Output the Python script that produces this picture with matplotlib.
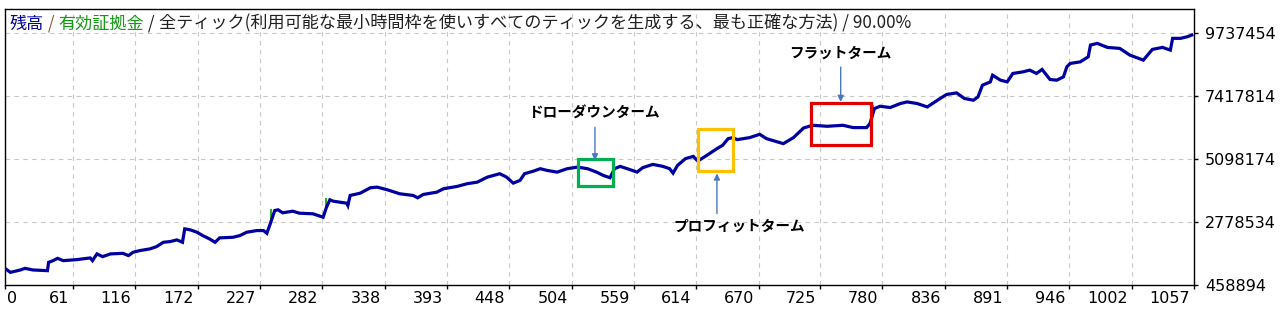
import matplotlib
matplotlib.use('Agg')
import matplotlib.pyplot as plt
import matplotlib.transforms as mtransforms
from matplotlib.patches import Rectangle

# balance curve (trade number, balance)
trade_no = [1, 5, 14, 18, 25, 38, 39, 43, 47, 52, 64, 76, 78, 82, 87, 94, 105, 110, 114, 120,
            129, 135, 141, 147, 153, 158, 160, 165, 171, 176, 182, 187, 191, 203, 209, 215, 224, 230, 233, 236,
            240, 243, 247, 256, 262, 274, 283, 286, 289, 292, 304, 305, 307, 316, 325, 331, 340, 351, 363, 367,
            372, 384, 390, 402, 411, 420, 429, 440, 446, 452, 458, 462, 470, 476, 482, 491, 500, 509, 518, 526,
            532, 538, 542, 547, 556, 562, 567, 576, 585, 591, 594, 598, 605, 612, 616, 624, 633, 638, 643, 647,
            651, 662, 671, 677, 692, 701, 710, 718, 731, 745, 754, 766, 769, 773, 778, 787, 796, 802, 811, 820,
            829, 837, 846, 853, 861, 865, 869, 876, 878, 885, 891, 896, 905, 911, 917, 922, 929, 935, 941, 944,
            947, 956, 963, 965, 971, 980, 991, 1000, 1012, 1020, 1029, 1036, 1038, 1045, 1051, 1055]
balance = [1050000, 925000, 1013000, 1073000, 1013000, 988000, 1294000, 1357000, 1442000, 1357000,
           1394000, 1457000, 1357000, 1605000, 1505000, 1605000, 1627000, 1542000, 1664000, 1727000,
           1790000, 1875000, 2034000, 2060000, 2122000, 2034000, 2529000, 2492000, 2403000, 2281000,
           2159000, 2034000, 2196000, 2219000, 2281000, 2403000, 2466000, 2466000, 2366000, 2714000,
           3206000, 3231000, 3121000, 3180000, 3106000, 3084000, 2958000, 3328000, 3601000, 3549000,
           3475000, 3390000, 3760000, 3845000, 4045000, 4067000, 3971000, 3823000, 3760000, 3675000,
           3797000, 3882000, 4008000, 4093000, 4193000, 4252000, 4437000, 4562000, 4437000, 4215000,
           4315000, 4562000, 4658000, 4747000, 4684000, 4621000, 4747000, 4806000, 4747000, 4621000,
           4499000, 4414000, 4747000, 4832000, 4710000, 4621000, 4784000, 4906000, 4832000, 4747000,
           4584000, 4869000, 5117000, 5202000, 5028000, 5239000, 5486000, 5608000, 5856000, 5893000,
           5819000, 5893000, 6015000, 5856000, 5671000, 5893000, 6248000, 6348000, 6311000, 6348000,
           6263000, 6263000, 6411000, 6965000, 7050000, 7002000, 7150000, 7209000, 7150000, 7024000,
           7272000, 7483000, 7542000, 7335000, 7272000, 7394000, 7826000, 7948000, 8196000, 8011000,
           7948000, 8259000, 8318000, 8381000, 8259000, 8407000, 8037000, 8011000, 8133000, 8503000,
           8628000, 8688000, 8872000, 9305000, 9368000, 9220000, 9183000, 8935000, 8751000, 9146000,
           9220000, 9120000, 9553000, 9553000, 9612000, 9675000]

# short equity excursions that show in green
equity_x = [237, 286, 772]
equity_lo = [2751000, 3390000, 6900000]
equity_hi = [3269000, 3650000, 7100000]

x_ticks = [0, 61, 116, 172, 227, 282, 338, 393, 448, 504, 559, 614, 670, 725, 780, 836, 891, 946, 1002, 1057]
y_ticks = [458894, 2778534, 5098174, 7417814, 9737454]

title_parts = ['残高', ' / ', '有効証拠金', ' / ',
               '全ティック(利用可能な最小時間枠を使いすべてのティックを生成する、最も正確な方法) / 90.00%']
title_colors = ['#0000a0', '#a0522d', '#119911', '#202020', '#202020']

# marked periods: label, x range, y range, arrow from / to, label position
periods = ['ドローダウンターム', 'プロフィットターム', 'フラットターム']
period_colors = ['#00b050', '#ffc000', '#e00000']
period_x = [(509.5, 540.6), (616.1, 647.2), (716.6, 769.9)]
period_y = [(4092700, 5090700), (4647000, 6200000), (5608000, 7161000)]
arrow_x = [524.6, 633.0, 743.0]
arrow_from = [6274000, 3095000, 8492000]
arrow_to = [5054000, 4573000, 7209000]
label_x = [523.7, 652.6, 742.3]
label_y = [6830000, 2651000, 9009000]

fig = plt.figure(figsize=(12.85, 3.23), dpi=100)
ax = fig.add_axes([4.7 / 1285, 38 / 323, 1189.3 / 1285, 275.7 / 323])

ax.vlines(equity_x, equity_lo, equity_hi, color='#00a000', lw=1.2, zorder=2)
ax.plot(trade_no, balance, color='#0000a0', lw=2.3, solid_joinstyle='miter', zorder=3)

ax.set_xlim(0, 1057)
ax.set_ylim(458894, 10624500)

ax.set_xticks(x_ticks)
ax.set_xticklabels([])
ax.set_yticks(y_ticks)
ax.set_yticklabels([str(v) for v in y_ticks], fontsize=11.5, family='DejaVu Sans')
ax.yaxis.tick_right()
ax.tick_params(axis='x', direction='out', length=3, width=1, color='black')
ax.tick_params(axis='y', direction='out', length=3, width=1, color='black', pad=5)

ax.grid(True, color='#c8c8c8', lw=0.8, linestyle=(0, (4, 4)))
for s in ax.spines.values():
    s.set_color('black')
    s.set_linewidth(1.0)

# x tick labels sit to the left of their tick
tr = mtransforms.offset_copy(ax.get_xaxis_transform(), fig=fig, x=-4, y=-6, units='dots')
for t in x_ticks[1:]:
    ax.text(t, 0, str(t), transform=tr, ha='right', va='top', fontsize=11.5, family='DejaVu Sans')
tr0 = mtransforms.offset_copy(ax.get_xaxis_transform(), fig=fig, x=2, y=-6, units='dots')
ax.text(0, 0, '0', transform=tr0, ha='left', va='top', fontsize=11.5, family='DejaVu Sans')

# coloured title pieces, chained one after another
prev = ax.text(0.0045, 0.915, title_parts[0], transform=ax.transAxes, ha='left', va='bottom',
               color=title_colors[0], fontsize=12.3, family=['Noto Sans CJK JP', 'DejaVu Sans'])
for part, col in zip(title_parts[1:], title_colors[1:]):
    prev = ax.annotate(part, xy=(1, 0), xycoords=prev, ha='left', va='bottom', color=col,
                       fontsize=12.3, family=['Noto Sans CJK JP', 'DejaVu Sans'])

for i in range(len(periods)):
    x0, x1 = period_x[i]
    y0, y1 = period_y[i]
    ax.add_patch(Rectangle((x0, y0), x1 - x0, y1 - y0, fill=False, edgecolor=period_colors[i],
                           lw=2.3, zorder=4))
    ax.annotate('', xy=(arrow_x[i], arrow_to[i]), xytext=(arrow_x[i], arrow_from[i]),
                arrowprops=dict(arrowstyle='-|>', color='#4a78c0', lw=1.0, mutation_scale=9,
                                shrinkA=0, shrinkB=0), zorder=4)
    ax.text(label_x[i], label_y[i], periods[i], ha='center', va='center', fontsize=10.5,
            fontweight='bold', family=['Noto Sans CJK JP', 'DejaVu Sans'], zorder=5)

plt.savefig('out.png', dpi=100)
plt.close('all')
